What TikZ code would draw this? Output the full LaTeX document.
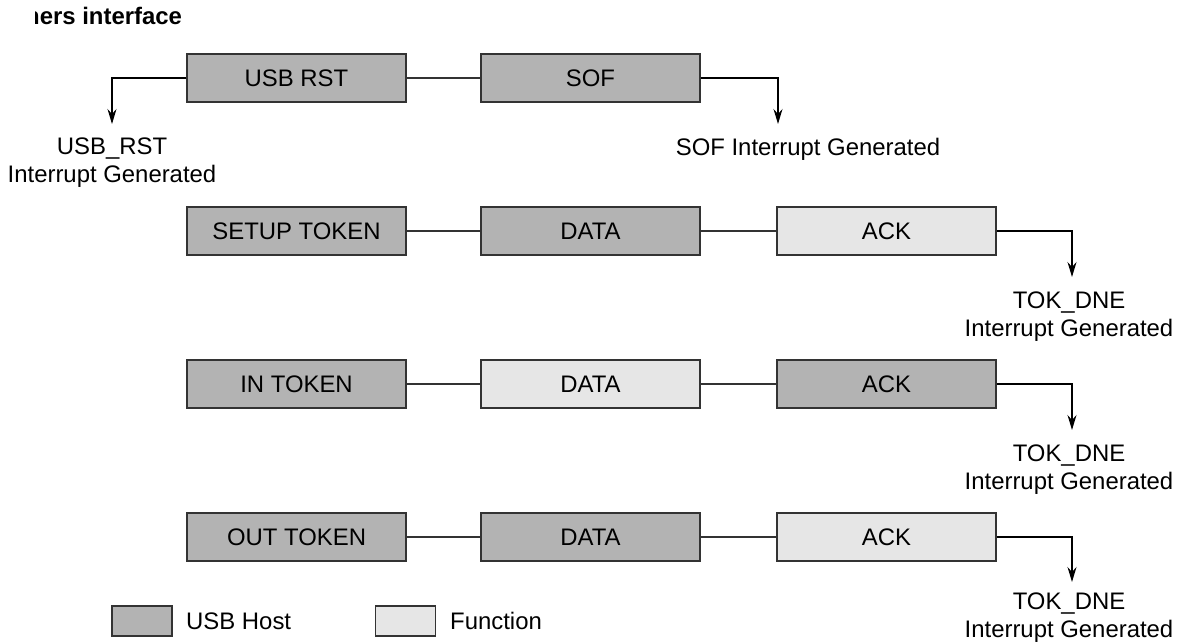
\documentclass[tikz,border=0pt]{standalone}
\usepackage{fontspec}
\setmainfont{Liberation Sans}
\usetikzlibrary{arrows.meta}
\definecolor{hostfill}{HTML}{B3B3B3}
\definecolor{funcfill}{HTML}{E6E6E6}
\definecolor{edgegray}{HTML}{333333}
\begin{document}
\begin{tikzpicture}[x=1pt,y=-1pt,
  txt/.style={font=\fontsize{23.9}{28}\selectfont},
  pkt/.style={txt, draw=edgegray, line width=1.5pt, minimum width=219pt, minimum height=48pt, inner sep=0pt},
  host/.style={pkt, fill=hostfill},
  func/.style={pkt, fill=funcfill},
  link/.style={draw=edgegray, line width=1.2pt},
  irq/.style={draw=black, line width=1.2pt, -{Stealth[length=15pt,width=9pt,inset=5pt]}},
  lbl/.style={txt, align=center, inner sep=0pt},
  keybox/.style={draw=edgegray, line width=1.5pt, minimum width=60pt, minimum height=30pt, inner sep=0pt}]
\useasboundingbox (0,0) rectangle (1178,643);

% title (clipped at the left, as printed)
\begin{scope}
  \clip (35,0) rectangle (400,40);
  \node[txt, font=\fontsize{23.9}{28}\selectfont\bfseries, anchor=base west, inner sep=0pt] (title) at (25,24.4) {ners interface};
\end{scope}

% row 1
\node[host] (rst) at (296.5,78) {USB RST};
\node[host] (sof) at (590.5,78) {SOF};
\draw[link] (rst) -- (sof);
\coordinate (rsttip) at (112,124);
\coordinate (softip) at (778,124);
\draw[irq] (rst.west) -| (rsttip);
\draw[irq] (sof.east) -| (softip);
\node[lbl, anchor=north] (rstlbl) at (112,138) {USB\_RST\\Interrupt Generated};
\node[lbl, anchor=base] (soflbl) at (808,155.4) {SOF Interrupt Generated};

% row 2
\node[host] (setup) at (296.5,231) {SETUP TOKEN};
\node[host] (data2) at (590.5,231) {DATA};
\node[func] (ack2) at (886.5,231) {ACK};
\draw[link] (setup) -- (data2);
\draw[link] (data2) -- (ack2);
\coordinate (tip2) at (1072,277);
\draw[irq] (ack2.east) -| (tip2);
\node[lbl, anchor=north] (tok2) at (1069,292) {TOK\_DNE\\Interrupt Generated};

% row 3
\node[host] (intok) at (296.5,384) {IN TOKEN};
\node[func] (data3) at (590.5,384) {DATA};
\node[host] (ack3) at (886.5,384) {ACK};
\draw[link] (intok) -- (data3);
\draw[link] (data3) -- (ack3);
\coordinate (tip3) at (1072,430);
\draw[irq] (ack3.east) -| (tip3);
\node[lbl, anchor=north] (tok3) at (1069,445) {TOK\_DNE\\Interrupt Generated};

% row 4
\node[host] (outtok) at (296.5,537) {OUT TOKEN};
\node[host] (data4) at (590.5,537) {DATA};
\node[func] (ack4) at (886.5,537) {ACK};
\draw[link] (outtok) -- (data4);
\draw[link] (data4) -- (ack4);
\coordinate (tip4) at (1072,582);
\draw[irq] (ack4.east) -| (tip4);
\node[lbl, anchor=north] (tok4) at (1069,593) {TOK\_DNE\\Interrupt Generated};

% legend
\node[keybox, fill=hostfill] (keyhost) at (142,621) {};
\node[txt, anchor=west, inner sep=0pt] (keyhosttxt) at (186,621) {USB Host};
\node[keybox, fill=funcfill] (keyfunc) at (405.5,621) {};
\node[txt, anchor=west, inner sep=0pt] (keyfunctxt) at (450,621) {Function};
\end{tikzpicture}
\end{document}
